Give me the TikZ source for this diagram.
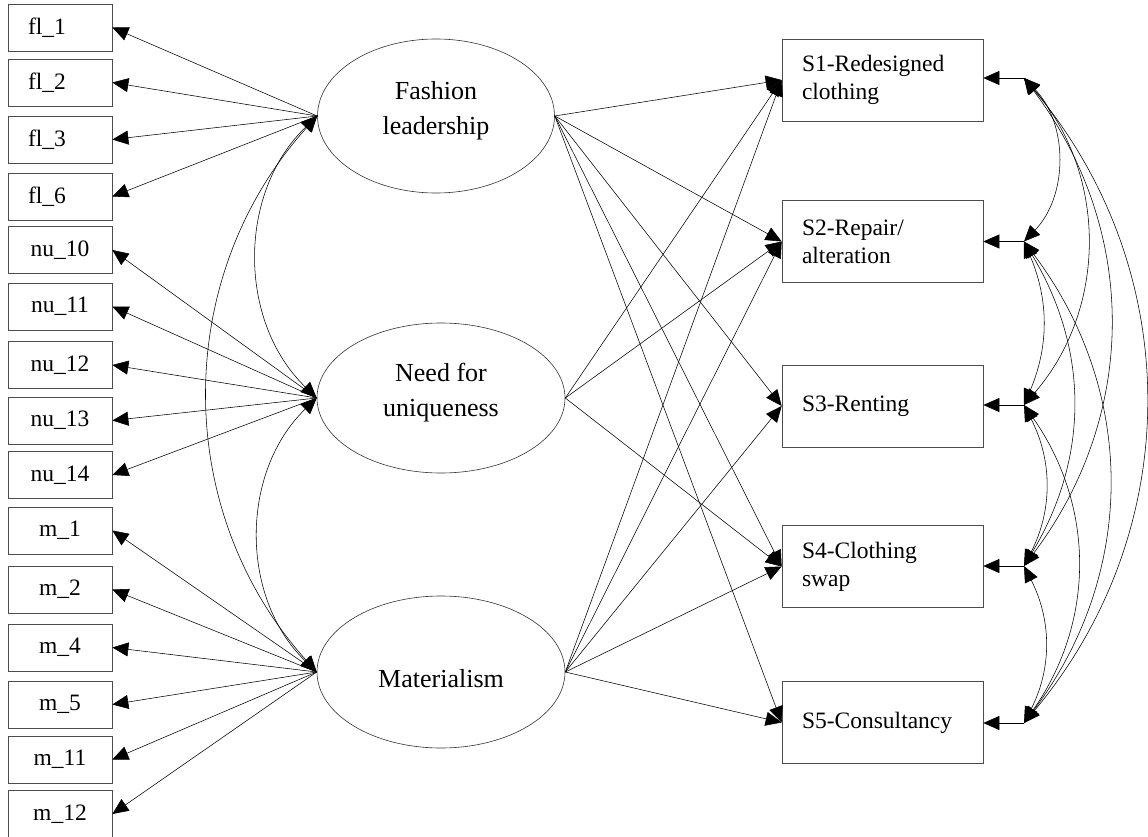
\documentclass[tikz,border=0pt]{standalone}
\usepackage{fontspec}
\setmainfont{Liberation Serif}
\usetikzlibrary{arrows.meta,shapes.geometric}
\begin{document}
\begin{tikzpicture}[x=1pt,y=-1pt,
  obs/.style={draw=black!70, line width=0.7pt, rectangle, minimum width=104pt, minimum height=47pt, inner sep=0pt, font=\fontsize{23.5}{28}\selectfont},
  obsl/.style={obs, text width=64pt, align=left},
  sbox/.style={draw=black!70, line width=0.7pt, rectangle, minimum width=201pt, minimum height=82pt, inner sep=0pt, text width=161pt, align=left, font=\fontsize{23.5}{28}\selectfont},
  lat/.style={draw=black!80, line width=0.6pt, ellipse, inner sep=0pt},
  lattext/.style={inner sep=0pt, align=center, font=\fontsize{26}{35}\selectfont},
  tip/.tip={Triangle[length=16pt,width=14pt]},
  arr/.style={-tip, line width=0.55pt},
  cov/.style={tip-tip, line width=0.55pt},
]
\useasboundingbox (0,0) rectangle (1148,837);

% indicators
\node[obsl] (fl1) at (60,27.5) {fl\_1};
\node[obsl] (fl2) at (60,82.5) {fl\_2};
\node[obsl] (fl3) at (60,139.5) {fl\_3};
\node[obsl] (fl6) at (60,196.5) {fl\_6};
\node[obs] (nu10) at (60,250) {nu\_10};
\node[obs] (nu11) at (60,306.5) {nu\_11};
\node[obs] (nu12) at (60,365) {nu\_12};
\node[obs] (nu13) at (60,420.5) {nu\_13};
\node[obs] (nu14) at (60,475) {nu\_14};
\node[obs] (m1) at (60,530.5) {m\_1};
\node[obs] (m2) at (60,589.5) {m\_2};
\node[obs] (m4) at (60,647.5) {m\_4};
\node[obs] (m5) at (60,704.5) {m\_5};
\node[obs] (m11) at (60,759.5) {m\_11};
\node[obs] (m12) at (60,814) {m\_12};

% latent variables
\node[lat, minimum width=237pt, minimum height=154pt,
  label={[lattext, name=FLt, yshift=5pt]center:{Fashion\\leadership}}] (FL) at (436,116) {};
\node[lat, minimum width=248pt, minimum height=150pt,
  label={[lattext, name=NUt, yshift=5pt]center:{Need for\\uniqueness}}] (NU) at (441,398) {};
\node[lat, minimum width=248pt, minimum height=152pt,
  label={[lattext, name=MAt, yshift=-7pt]center:{Materialism}}] (MA) at (441,672) {};

% outcomes
\node[sbox] (S1) at (882.5,80) {S1-Redesigned\\clothing};
\node[sbox] (S2) at (882.5,241.5) {S2-Repair/\\alteration};
\node[sbox] (S3) at (882.5,406) {S3-Renting};
\node[sbox] (S4) at (882.5,566.5) {S4-Clothing\\swap};
\node[sbox] (S5) at (882.5,722.5) {S5-Consultancy};

% residual points
\coordinate (r1) at (1024,78);
\coordinate (r2) at (1024,241.5);
\coordinate (r3) at (1024,405);
\coordinate (r4) at (1024,566);
\coordinate (r5) at (1024,723);

% loadings
\foreach \b in {fl1,fl2,fl3,fl6} \draw[arr] (FL.west) -- (\b.east);
\foreach \b in {nu10,nu11,nu12,nu13,nu14} \draw[arr] (NU.west) -- (\b.east);
\foreach \b in {m1,m2,m4,m5,m11,m12} \draw[arr] (MA.west) -- (\b.east);

% latent covariances
\draw[cov] (FL.west) to[bend right=46] (NU.west);
\draw[cov] (FL.west) to[bend right=42] (MA.west);
\draw[cov] (NU.west) to[bend right=46] (MA.west);

% structural paths
\foreach \s in {S1,S2,S3,S4,S5} \draw[arr] (FL.east) -- (\s.west);
\foreach \s in {S1,S2,S4} \draw[arr] (NU.east) -- (\s.west);
\foreach \s in {S1,S2,S3,S4,S5} \draw[arr] (MA.east) -- (\s.west);

% residuals
\foreach \i in {1,...,5} \draw[arr] (r\i) -- (S\i.east |- r\i);

% residual covariances
\draw[cov] (r1) to[bend left=44] (r2);
\draw[cov] (r1) to[bend left=41] (r3);
\draw[cov] (r1) to[bend left=37] (r4);
\draw[cov] (r1) to[bend left=40] (r5);
\draw[cov] (r2) to[bend left=23] (r3);
\draw[cov] (r2) to[bend left=31] (r4);
\draw[cov] (r2) to[bend left=37] (r5);
\draw[cov] (r3) to[bend left=27] (r4);
\draw[cov] (r3) to[bend left=35] (r5);
\draw[cov] (r4) to[bend left=27] (r5);
\end{tikzpicture}
\end{document}
